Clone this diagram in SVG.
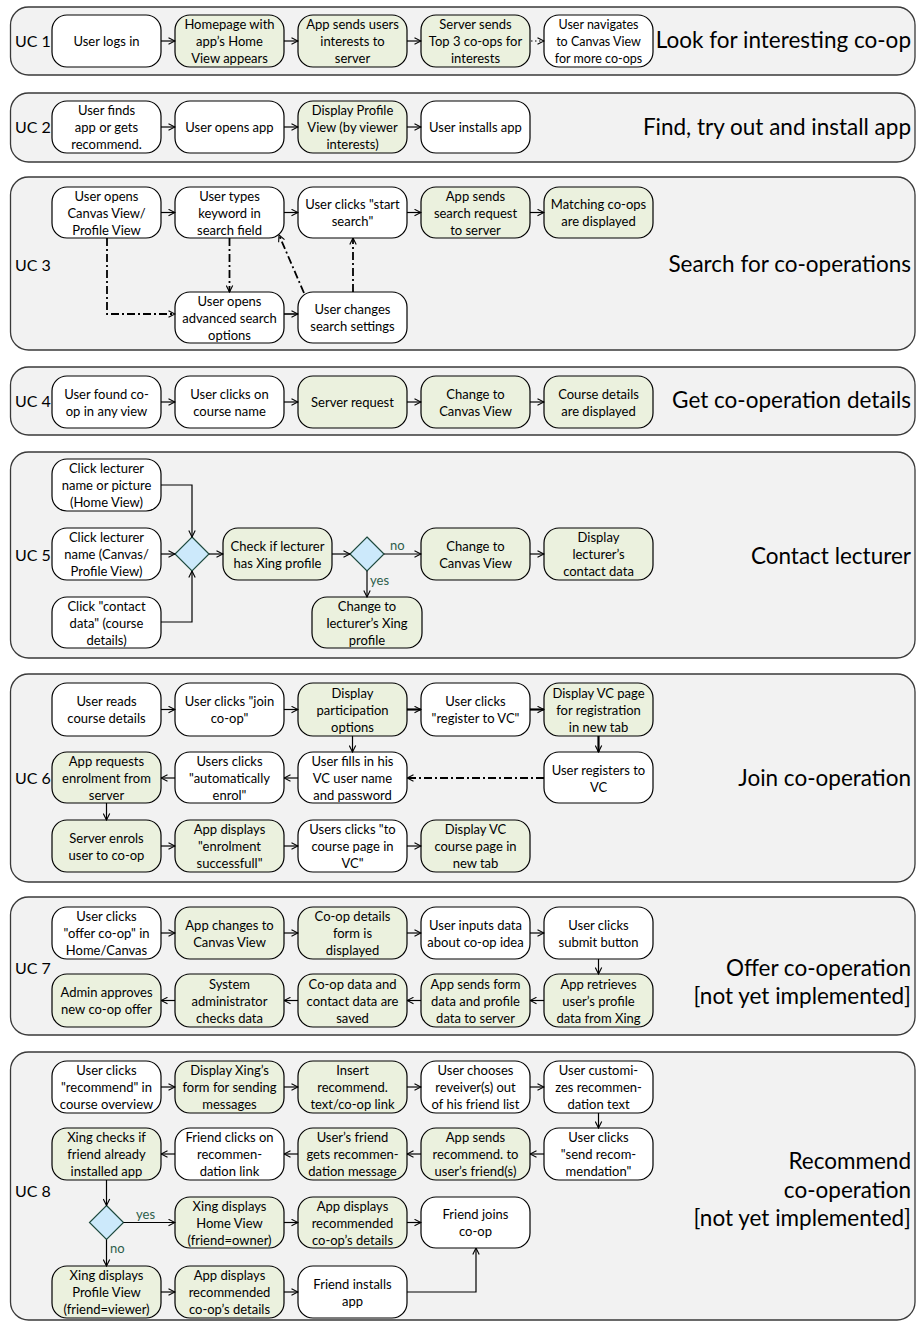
<svg xmlns="http://www.w3.org/2000/svg" width="917" height="1321" viewBox="0 0 917 1321">
<style>
.ct{fill:#f2f2f2;stroke:#3a3a3a;stroke-width:1.3}
.w{fill:#fff;stroke:#000;stroke-width:1.2}
.g{fill:#ebf1de;stroke:#000;stroke-width:1.2}
.dm{fill:#cce9fb;stroke:#1e4a3e;stroke-width:1.2}
text{font-family:Lato,"Liberation Sans",sans-serif;fill:#000}
.t{font-size:13px;text-anchor:middle}
.s{font-size:12.5px}
.uc{font-size:16px}
.ttl{font-size:22.5px;text-anchor:end}
.lb{font-size:13px;fill:#2d5e4a}
.ln{fill:none;stroke:#000;stroke-width:1.2;marker-end:url(#ah)}
.th{stroke-width:2.2}
.dd{stroke-width:1.8;stroke-dasharray:8 3 2 3}
.dt{stroke-dasharray:1.5 2.5}
</style>
<defs>
<marker id="ah" viewBox="0 0 8 8" refX="7.5" refY="4" markerWidth="8" markerHeight="8" markerUnits="userSpaceOnUse" orient="auto">
<path d="M1,0.8 L7.5,4 L1,7.2" fill="none" stroke="#000" stroke-width="1.1"/>
</marker>
</defs>

<g id="containers">
<rect class="ct" x="10.5" y="7" width="904.5" height="68" rx="18"/>
<rect class="ct" x="10.5" y="93" width="904.5" height="69" rx="18"/>
<rect class="ct" x="10.5" y="177" width="904.5" height="173" rx="18"/>
<rect class="ct" x="10.5" y="367" width="904.5" height="68" rx="18"/>
<rect class="ct" x="10.5" y="452" width="904.5" height="206" rx="18"/>
<rect class="ct" x="10.5" y="674" width="904.5" height="208" rx="18"/>
<rect class="ct" x="10.5" y="897" width="904.5" height="138" rx="18"/>
<rect class="ct" x="10.5" y="1052" width="904.5" height="268" rx="18"/>
</g>

<g id="labels">
<text class="uc" x="15" y="46.5">UC 1</text>
<text class="uc" x="15" y="132.5">UC 2</text>
<text class="uc" x="15" y="270.5">UC 3</text>
<text class="uc" x="15" y="406.5">UC 4</text>
<text class="uc" x="15" y="560.5">UC 5</text>
<text class="uc" x="15" y="783.5">UC 6</text>
<text class="uc" x="15" y="973.5">UC 7</text>
<text class="uc" x="15" y="1196.5">UC 8</text>
<text class="ttl" x="911" y="48">Look for interesting co-op</text>
<text class="ttl" x="911" y="135">Find, try out and install app</text>
<text class="ttl" x="911" y="272">Search for co-operations</text>
<text class="ttl" x="911" y="408">Get co-operation details</text>
<text class="ttl" x="911" y="564">Contact lecturer</text>
<text class="ttl" x="911" y="786">Join co-operation</text>
<text class="ttl" x="911" y="976">Offer co-operation</text>
<text class="ttl" x="911" y="1004">[not yet implemented]</text>
<text class="ttl" x="911" y="1169">Recommend</text>
<text class="ttl" x="911" y="1198">co-operation</text>
<text class="ttl" x="911" y="1226">[not yet implemented]</text>
</g>

<g id="uc1-1"><rect class="w" x="52" y="15" width="109" height="52" rx="15"/><text class="t" x="106.5" y="46">User logs in</text></g>
<g id="uc1-2"><rect class="g" x="175" y="15" width="109" height="52" rx="15"/><text class="t"><tspan x="229.5" y="29">Homepage with</tspan><tspan x="229.5" y="46">app’s Home</tspan><tspan x="229.5" y="63">View appears</tspan></text></g>
<g id="uc1-3"><rect class="g" x="298" y="15" width="109" height="52" rx="15"/><text class="t"><tspan x="352.5" y="29">App sends users</tspan><tspan x="352.5" y="46">interests to</tspan><tspan x="352.5" y="63">server</tspan></text></g>
<g id="uc1-4"><rect class="g" x="421" y="15" width="109" height="52" rx="15"/><text class="t"><tspan x="475.5" y="29">Server sends</tspan><tspan x="475.5" y="46">Top 3 co-ops for</tspan><tspan x="475.5" y="63">interests</tspan></text></g>
<g id="uc1-5"><rect class="w" x="544" y="15" width="109" height="52" rx="15"/><text class="t s"><tspan x="598.5" y="29">User navigates</tspan><tspan x="598.5" y="46">to Canvas View</tspan><tspan x="598.5" y="63">for more co-ops</tspan></text></g>

<g id="uc2-1"><rect class="w" x="52" y="101" width="109" height="52" rx="15"/><text class="t"><tspan x="106.5" y="115">User finds</tspan><tspan x="106.5" y="132">app or gets</tspan><tspan x="106.5" y="149">recommend.</tspan></text></g>
<g id="uc2-2"><rect class="w" x="175" y="101" width="109" height="52" rx="15"/><text class="t" x="229.5" y="132">User opens app</text></g>
<g id="uc2-3"><rect class="g" x="298" y="101" width="109" height="52" rx="15"/><text class="t"><tspan x="352.5" y="115">Display Profile</tspan><tspan x="352.5" y="132">View (by viewer</tspan><tspan x="352.5" y="149">interests)</tspan></text></g>
<g id="uc2-4"><rect class="w" x="421" y="101" width="109" height="52" rx="15"/><text class="t" x="475.5" y="132">User installs app</text></g>

<g id="uc3-1"><rect class="w" x="52" y="187" width="109" height="51" rx="15"/><text class="t"><tspan x="106.5" y="200.5">User opens</tspan><tspan x="106.5" y="217.5">Canvas View/</tspan><tspan x="106.5" y="234.5">Profile View</tspan></text></g>
<g id="uc3-2"><rect class="w" x="175" y="187" width="109" height="51" rx="15"/><text class="t"><tspan x="229.5" y="200.5">User types</tspan><tspan x="229.5" y="217.5">keyword in</tspan><tspan x="229.5" y="234.5">search field</tspan></text></g>
<g id="uc3-3"><rect class="w" x="298" y="187" width="109" height="51" rx="15"/><text class="t"><tspan x="352.5" y="209">User clicks "start</tspan><tspan x="352.5" y="226">search"</tspan></text></g>
<g id="uc3-4"><rect class="g" x="421" y="187" width="109" height="51" rx="15"/><text class="t"><tspan x="475.5" y="200.5">App sends</tspan><tspan x="475.5" y="217.5">search request</tspan><tspan x="475.5" y="234.5">to server</tspan></text></g>
<g id="uc3-5"><rect class="g" x="544" y="187" width="109" height="51" rx="15"/><text class="t"><tspan x="598.5" y="209">Matching co-ops</tspan><tspan x="598.5" y="226">are displayed</tspan></text></g>
<g id="uc3-6"><rect class="w" x="175" y="292" width="109" height="51" rx="15"/><text class="t"><tspan x="229.5" y="305.5">User opens</tspan><tspan x="229.5" y="322.5">advanced search</tspan><tspan x="229.5" y="339.5">options</tspan></text></g>
<g id="uc3-7"><rect class="w" x="298" y="292" width="109" height="51" rx="15"/><text class="t"><tspan x="352.5" y="314">User changes</tspan><tspan x="352.5" y="331">search settings</tspan></text></g>

<g id="uc4-1"><rect class="w" x="52" y="376" width="109" height="52" rx="15"/><text class="t"><tspan x="106.5" y="398.5">User found co-</tspan><tspan x="106.5" y="415.5">op in any view</tspan></text></g>
<g id="uc4-2"><rect class="w" x="175" y="376" width="109" height="52" rx="15"/><text class="t"><tspan x="229.5" y="398.5">User clicks on</tspan><tspan x="229.5" y="415.5">course name</tspan></text></g>
<g id="uc4-3"><rect class="g" x="298" y="376" width="109" height="52" rx="15"/><text class="t" x="352.5" y="407">Server request</text></g>
<g id="uc4-4"><rect class="g" x="421" y="376" width="109" height="52" rx="15"/><text class="t"><tspan x="475.5" y="398.5">Change to</tspan><tspan x="475.5" y="415.5">Canvas View</tspan></text></g>
<g id="uc4-5"><rect class="g" x="544" y="376" width="109" height="52" rx="15"/><text class="t"><tspan x="598.5" y="398.5">Course details</tspan><tspan x="598.5" y="415.5">are displayed</tspan></text></g>

<g id="uc5-1"><rect class="w" x="52" y="459" width="109" height="52" rx="15"/><text class="t"><tspan x="106.5" y="473">Click lecturer</tspan><tspan x="106.5" y="490">name or picture</tspan><tspan x="106.5" y="507">(Home View)</tspan></text></g>
<g id="uc5-2"><rect class="w" x="52" y="528" width="109" height="52" rx="15"/><text class="t"><tspan x="106.5" y="542">Click lecturer</tspan><tspan x="106.5" y="559">name (Canvas/</tspan><tspan x="106.5" y="576">Profile View)</tspan></text></g>
<g id="uc5-3"><rect class="w" x="52" y="597" width="109" height="51" rx="15"/><text class="t"><tspan x="106.5" y="610.5">Click "contact</tspan><tspan x="106.5" y="627.5">data" (course</tspan><tspan x="106.5" y="644.5">details)</tspan></text></g>
<g id="uc5-d1"><polygon class="dm" points="192,537 209,554 192,571 175,554"/></g>
<g id="uc5-4"><rect class="g" x="223" y="528" width="109" height="52" rx="15"/><text class="t"><tspan x="277.5" y="550.5">Check if lecturer</tspan><tspan x="277.5" y="567.5">has Xing profile</tspan></text></g>
<g id="uc5-d2"><polygon class="dm" points="367,537 384,554 367,571 350,554"/></g>
<g id="uc5-5"><rect class="g" x="421" y="528" width="109" height="52" rx="15"/><text class="t"><tspan x="475.5" y="550.5">Change to</tspan><tspan x="475.5" y="567.5">Canvas View</tspan></text></g>
<g id="uc5-6"><rect class="g" x="544" y="528" width="109" height="52" rx="15"/><text class="t"><tspan x="598.5" y="542">Display</tspan><tspan x="598.5" y="559">lecturer’s</tspan><tspan x="598.5" y="576">contact data</tspan></text></g>
<g id="uc5-7"><rect class="g" x="312" y="597" width="110" height="51" rx="15"/><text class="t"><tspan x="367" y="610.5">Change to</tspan><tspan x="367" y="627.5">lecturer’s Xing</tspan><tspan x="367" y="644.5">profile</tspan></text></g>

<g id="uc6-1"><rect class="w" x="52" y="683" width="109" height="53" rx="15"/><text class="t"><tspan x="106.5" y="706">User reads</tspan><tspan x="106.5" y="723">course details</tspan></text></g>
<g id="uc6-2"><rect class="w" x="175" y="683" width="109" height="53" rx="15"/><text class="t"><tspan x="229.5" y="706">User clicks "join</tspan><tspan x="229.5" y="723">co-op"</tspan></text></g>
<g id="uc6-3"><rect class="g" x="298" y="683" width="109" height="53" rx="15"/><text class="t"><tspan x="352.5" y="697.5">Display</tspan><tspan x="352.5" y="714.5">participation</tspan><tspan x="352.5" y="731.5">options</tspan></text></g>
<g id="uc6-4"><rect class="w" x="421" y="683" width="109" height="53" rx="15"/><text class="t"><tspan x="475.5" y="706">User clicks</tspan><tspan x="475.5" y="723">"register to VC"</tspan></text></g>
<g id="uc6-5"><rect class="g" x="544" y="683" width="109" height="53" rx="15"/><text class="t"><tspan x="598.5" y="697.5">Display VC page</tspan><tspan x="598.5" y="714.5">for registration</tspan><tspan x="598.5" y="731.5">in new tab</tspan></text></g>
<g id="uc6-6"><rect class="g" x="52" y="752" width="109" height="51" rx="15"/><text class="t"><tspan x="106.5" y="766">App requests</tspan><tspan x="106.5" y="783">enrolment from</tspan><tspan x="106.5" y="800">server</tspan></text></g>
<g id="uc6-7"><rect class="w" x="175" y="752" width="109" height="51" rx="15"/><text class="t"><tspan x="229.5" y="766">Users clicks</tspan><tspan x="229.5" y="783">"automatically</tspan><tspan x="229.5" y="800">enrol"</tspan></text></g>
<g id="uc6-8"><rect class="w" x="298" y="752" width="109" height="51" rx="15"/><text class="t"><tspan x="352.5" y="766">User fills in his</tspan><tspan x="352.5" y="783">VC user name</tspan><tspan x="352.5" y="800">and password</tspan></text></g>
<g id="uc6-9"><rect class="w" x="544" y="752" width="109" height="51" rx="15"/><text class="t"><tspan x="598.5" y="774.5">User registers to</tspan><tspan x="598.5" y="791.5">VC</tspan></text></g>
<g id="uc6-10"><rect class="g" x="52" y="820" width="109" height="52" rx="15"/><text class="t"><tspan x="106.5" y="842.5">Server enrols</tspan><tspan x="106.5" y="859.5">user to co-op</tspan></text></g>
<g id="uc6-11"><rect class="g" x="175" y="820" width="109" height="52" rx="15"/><text class="t"><tspan x="229.5" y="834">App displays</tspan><tspan x="229.5" y="851">"enrolment</tspan><tspan x="229.5" y="868">successfull"</tspan></text></g>
<g id="uc6-12"><rect class="w" x="298" y="820" width="109" height="52" rx="15"/><text class="t"><tspan x="352.5" y="834">Users clicks "to</tspan><tspan x="352.5" y="851">course page in</tspan><tspan x="352.5" y="868">VC"</tspan></text></g>
<g id="uc6-13"><rect class="g" x="421" y="820" width="109" height="52" rx="15"/><text class="t"><tspan x="475.5" y="834">Display VC</tspan><tspan x="475.5" y="851">course page in</tspan><tspan x="475.5" y="868">new tab</tspan></text></g>

<g id="uc7-1"><rect class="w" x="52" y="907" width="109" height="52" rx="15"/><text class="t"><tspan x="106.5" y="921">User clicks</tspan><tspan x="106.5" y="938">"offer co-op" in</tspan><tspan x="106.5" y="955">Home/Canvas</tspan></text></g>
<g id="uc7-2"><rect class="g" x="175" y="907" width="109" height="52" rx="15"/><text class="t"><tspan x="229.5" y="929.5">App changes to</tspan><tspan x="229.5" y="946.5">Canvas View</tspan></text></g>
<g id="uc7-3"><rect class="g" x="298" y="907" width="109" height="52" rx="15"/><text class="t"><tspan x="352.5" y="921">Co-op details</tspan><tspan x="352.5" y="938">form is</tspan><tspan x="352.5" y="955">displayed</tspan></text></g>
<g id="uc7-4"><rect class="w" x="421" y="907" width="109" height="52" rx="15"/><text class="t"><tspan x="475.5" y="929.5">User inputs data</tspan><tspan x="475.5" y="946.5">about co-op idea</tspan></text></g>
<g id="uc7-5"><rect class="w" x="544" y="907" width="109" height="52" rx="15"/><text class="t"><tspan x="598.5" y="929.5">User clicks</tspan><tspan x="598.5" y="946.5">submit button</tspan></text></g>
<g id="uc7-6"><rect class="g" x="52" y="974" width="109" height="53" rx="15"/><text class="t"><tspan x="106.5" y="997">Admin approves</tspan><tspan x="106.5" y="1014">new co-op offer</tspan></text></g>
<g id="uc7-7"><rect class="g" x="175" y="974" width="109" height="53" rx="15"/><text class="t"><tspan x="229.5" y="988.5">System</tspan><tspan x="229.5" y="1005.5">administrator</tspan><tspan x="229.5" y="1022.5">checks data</tspan></text></g>
<g id="uc7-8"><rect class="g" x="298" y="974" width="109" height="53" rx="15"/><text class="t"><tspan x="352.5" y="988.5">Co-op data and</tspan><tspan x="352.5" y="1005.5">contact data are</tspan><tspan x="352.5" y="1022.5">saved</tspan></text></g>
<g id="uc7-9"><rect class="g" x="421" y="974" width="109" height="53" rx="15"/><text class="t"><tspan x="475.5" y="988.5">App sends form</tspan><tspan x="475.5" y="1005.5">data and profile</tspan><tspan x="475.5" y="1022.5">data to server</tspan></text></g>
<g id="uc7-10"><rect class="g" x="544" y="974" width="109" height="53" rx="15"/><text class="t"><tspan x="598.5" y="988.5">App retrieves</tspan><tspan x="598.5" y="1005.5">user’s profile</tspan><tspan x="598.5" y="1022.5">data from Xing</tspan></text></g>

<g id="uc8-1"><rect class="w" x="52" y="1061" width="109" height="52" rx="15"/><text class="t"><tspan x="106.5" y="1075">User clicks</tspan><tspan x="106.5" y="1092">"recommend" in</tspan><tspan x="106.5" y="1109">course overview</tspan></text></g>
<g id="uc8-2"><rect class="g" x="175" y="1061" width="109" height="52" rx="15"/><text class="t"><tspan x="229.5" y="1075">Display  Xing’s</tspan><tspan x="229.5" y="1092">form for sending</tspan><tspan x="229.5" y="1109">messages</tspan></text></g>
<g id="uc8-3"><rect class="g" x="298" y="1061" width="109" height="52" rx="15"/><text class="t"><tspan x="352.5" y="1075">Insert</tspan><tspan x="352.5" y="1092">recommend.</tspan><tspan x="352.5" y="1109">text/co-op link</tspan></text></g>
<g id="uc8-4"><rect class="w" x="421" y="1061" width="109" height="52" rx="15"/><text class="t"><tspan x="475.5" y="1075">User chooses</tspan><tspan x="475.5" y="1092">reveiver(s) out</tspan><tspan x="475.5" y="1109">of his friend list</tspan></text></g>
<g id="uc8-5"><rect class="w" x="544" y="1061" width="109" height="52" rx="15"/><text class="t"><tspan x="598.5" y="1075">User customi-</tspan><tspan x="598.5" y="1092">zes recommen-</tspan><tspan x="598.5" y="1109">dation text</tspan></text></g>
<g id="uc8-6"><rect class="g" x="52" y="1128" width="109" height="52" rx="15"/><text class="t"><tspan x="106.5" y="1142">Xing checks if</tspan><tspan x="106.5" y="1159">friend already</tspan><tspan x="106.5" y="1176">installed app</tspan></text></g>
<g id="uc8-7"><rect class="w" x="175" y="1128" width="109" height="52" rx="15"/><text class="t"><tspan x="229.5" y="1142">Friend clicks on</tspan><tspan x="229.5" y="1159">recommen-</tspan><tspan x="229.5" y="1176">dation link</tspan></text></g>
<g id="uc8-8"><rect class="g" x="298" y="1128" width="109" height="52" rx="15"/><text class="t"><tspan x="352.5" y="1142">User’s friend</tspan><tspan x="352.5" y="1159">gets recommen-</tspan><tspan x="352.5" y="1176">dation message</tspan></text></g>
<g id="uc8-9"><rect class="g" x="421" y="1128" width="109" height="52" rx="15"/><text class="t"><tspan x="475.5" y="1142">App sends</tspan><tspan x="475.5" y="1159">recommend. to</tspan><tspan x="475.5" y="1176">user’s friend(s)</tspan></text></g>
<g id="uc8-10"><rect class="w" x="544" y="1128" width="109" height="52" rx="15"/><text class="t"><tspan x="598.5" y="1142">User clicks</tspan><tspan x="598.5" y="1159">"send recom-</tspan><tspan x="598.5" y="1176">mendation"</tspan></text></g>
<g id="uc8-d"><polygon class="dm" points="106.5,1205.5 123.5,1222.5 106.5,1239.5 89.5,1222.5"/></g>
<g id="uc8-11"><rect class="g" x="175" y="1197" width="109" height="51" rx="15"/><text class="t"><tspan x="229.5" y="1210.5">Xing displays</tspan><tspan x="229.5" y="1227.5">Home View</tspan><tspan x="229.5" y="1244.5">(friend=owner)</tspan></text></g>
<g id="uc8-12"><rect class="g" x="298" y="1197" width="109" height="51" rx="15"/><text class="t"><tspan x="352.5" y="1210.5">App displays</tspan><tspan x="352.5" y="1227.5">recommended</tspan><tspan x="352.5" y="1244.5">co-op’s details</tspan></text></g>
<g id="uc8-13"><rect class="w" x="421" y="1197" width="109" height="51" rx="15"/><text class="t"><tspan x="475.5" y="1219">Friend joins</tspan><tspan x="475.5" y="1236">co-op</tspan></text></g>
<g id="uc8-14"><rect class="g" x="52" y="1266" width="109" height="52" rx="15"/><text class="t"><tspan x="106.5" y="1280">Xing displays</tspan><tspan x="106.5" y="1297">Profile View</tspan><tspan x="106.5" y="1314">(friend=viewer)</tspan></text></g>
<g id="uc8-15"><rect class="g" x="175" y="1266" width="109" height="52" rx="15"/><text class="t"><tspan x="229.5" y="1280">App displays</tspan><tspan x="229.5" y="1297">recommended</tspan><tspan x="229.5" y="1314">co-op’s details</tspan></text></g>
<g id="uc8-16"><rect class="w" x="298" y="1266" width="109" height="52" rx="15"/><text class="t"><tspan x="352.5" y="1288.5">Friend installs</tspan><tspan x="352.5" y="1305.5">app</tspan></text></g>

<g id="connectors">
<line class="ln" x1="161" y1="41" x2="175" y2="41"/>
<line class="ln" x1="284" y1="41" x2="298" y2="41"/>
<line class="ln" x1="407" y1="41" x2="421" y2="41"/>
<line class="ln dt" x1="531" y1="41" x2="544" y2="41"/>
<line class="ln" x1="161" y1="127" x2="175" y2="127"/>
<line class="ln" x1="284" y1="127" x2="298" y2="127"/>
<line class="ln" x1="407" y1="127" x2="421" y2="127"/>
<line class="ln" x1="161" y1="212.5" x2="175" y2="212.5"/>
<line class="ln" x1="284" y1="212.5" x2="298" y2="212.5"/>
<line class="ln" x1="407" y1="212.5" x2="421" y2="212.5"/>
<line class="ln" x1="530" y1="212.5" x2="544" y2="212.5"/>
<polyline class="ln dd" points="107,238 107,314 175,314"/>
<line class="ln dd" x1="229.5" y1="238" x2="229.5" y2="292"/>
<line class="ln" x1="284" y1="314" x2="298" y2="314" style="stroke-width:1.6"/>
<line class="ln dd" x1="353" y1="292" x2="353" y2="238"/>
<line class="ln dd" x1="304" y1="293" x2="279" y2="235"/>
<line class="ln" x1="161" y1="402" x2="175" y2="402"/>
<line class="ln" x1="284" y1="402" x2="298" y2="402"/>
<line class="ln" x1="407" y1="402" x2="421" y2="402"/>
<line class="ln" x1="530" y1="402" x2="544" y2="402"/>
<polyline class="ln" points="161,485 192,485 192,537"/>
<line class="ln" x1="161" y1="554" x2="175" y2="554"/>
<polyline class="ln" points="161,622 192,622 192,571"/>
<line class="ln" x1="209" y1="554" x2="223" y2="554"/>
<line class="ln" x1="332" y1="554" x2="350" y2="554"/>
<line class="ln" x1="384" y1="554" x2="421" y2="554"/>
<line class="ln" x1="530" y1="554" x2="544" y2="554"/>
<line class="ln" x1="367" y1="571" x2="367" y2="597"/>
<line class="ln" x1="161" y1="709.5" x2="175" y2="709.5"/>
<line class="ln" x1="284" y1="709.5" x2="298" y2="709.5"/>
<line class="ln th" x1="407" y1="709.5" x2="421" y2="709.5"/>
<line class="ln th" x1="530" y1="709.5" x2="544" y2="709.5"/>
<line class="ln th" x1="598.5" y1="736" x2="598.5" y2="752"/>
<line class="ln dd" x1="544" y1="778" x2="407" y2="778"/>
<line class="ln" x1="352.5" y1="736" x2="352.5" y2="752"/>
<line class="ln" x1="298" y1="778" x2="284" y2="778"/>
<line class="ln" x1="175" y1="778" x2="161" y2="778"/>
<line class="ln" x1="106.5" y1="803" x2="106.5" y2="820"/>
<line class="ln" x1="161" y1="846" x2="175" y2="846"/>
<line class="ln" x1="284" y1="846" x2="298" y2="846"/>
<line class="ln" x1="407" y1="846" x2="421" y2="846"/>
<line class="ln" x1="161" y1="933" x2="175" y2="933"/>
<line class="ln" x1="284" y1="933" x2="298" y2="933"/>
<line class="ln" x1="407" y1="933" x2="421" y2="933"/>
<line class="ln" x1="530" y1="933" x2="544" y2="933"/>
<line class="ln" x1="598.5" y1="959" x2="598.5" y2="974"/>
<line class="ln" x1="544" y1="1000.5" x2="530" y2="1000.5"/>
<line class="ln" x1="421" y1="1000.5" x2="407" y2="1000.5"/>
<line class="ln" x1="298" y1="1000.5" x2="284" y2="1000.5"/>
<line class="ln" x1="175" y1="1000.5" x2="161" y2="1000.5"/>
<line class="ln" x1="161" y1="1087" x2="175" y2="1087"/>
<line class="ln" x1="284" y1="1087" x2="298" y2="1087"/>
<line class="ln" x1="407" y1="1087" x2="421" y2="1087"/>
<line class="ln" x1="530" y1="1087" x2="544" y2="1087"/>
<line class="ln" x1="598.5" y1="1113" x2="598.5" y2="1128"/>
<line class="ln" x1="544" y1="1154" x2="530" y2="1154"/>
<line class="ln" x1="421" y1="1154" x2="407" y2="1154"/>
<line class="ln" x1="298" y1="1154" x2="284" y2="1154"/>
<line class="ln" x1="175" y1="1154" x2="161" y2="1154"/>
<line class="ln" x1="106.5" y1="1180" x2="106.5" y2="1205.5"/>
<line class="ln" x1="123.5" y1="1222.5" x2="175" y2="1222.5"/>
<line class="ln" x1="106.5" y1="1239.5" x2="106.5" y2="1266"/>
<line class="ln" x1="284" y1="1222.5" x2="298" y2="1222.5"/>
<line class="ln" x1="407" y1="1222.5" x2="421" y2="1222.5"/>
<line class="ln" x1="161" y1="1292" x2="175" y2="1292"/>
<line class="ln" x1="284" y1="1292" x2="298" y2="1292"/>
<polyline class="ln" points="407,1292 476,1292 476,1248"/>
<text class="lb" x="390" y="550">no</text>
<text class="lb" x="370" y="585">yes</text>
<text class="lb" x="136" y="1219">yes</text>
<text class="lb" x="110" y="1253">no</text>
</g>
</svg>
